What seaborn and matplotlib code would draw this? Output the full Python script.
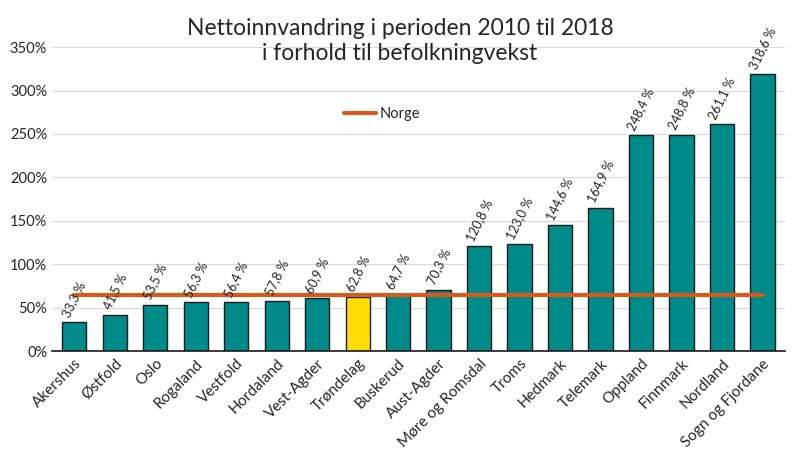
import numpy as np
import pandas as pd
import matplotlib
matplotlib.use("Agg")
import matplotlib.pyplot as plt
import seaborn as sns
from matplotlib.ticker import FuncFormatter

fylker = ['Akershus', 'Østfold', 'Oslo', 'Rogaland', 'Vestfold', 'Hordaland',
          'Vest-Agder', 'Trøndelag', 'Buskerud', 'Aust-Agder', 'Møre og Romsdal',
          'Troms', 'Hedmark', 'Telemark', 'Oppland', 'Finnmark', 'Nordland',
          'Sogn og Fjordane']
andel = [33.3, 41.5, 53.5, 56.3, 56.4, 57.8, 60.9, 62.8, 64.7, 70.3, 120.8,
         123.0, 144.6, 164.9, 248.4, 248.8, 261.1, 318.6]
norge = 65.0
uthevet = 'Trøndelag'

sns.set_theme(style="white")
plt.rcParams['font.family'] = ['Lato', 'DejaVu Sans']

df = pd.DataFrame({'Fylke': fylker, 'Andel': andel})
farger = ['#FFDD00' if f == uthevet else '#008B8B' for f in fylker]

fig = plt.figure(figsize=(8, 4.53), dpi=100)
ax = fig.add_axes([0.065, 0.225, 0.916, 0.671])

sns.barplot(data=df, x='Fylke', y='Andel', hue='Fylke', palette=farger,
            legend=False, ax=ax, width=0.6, edgecolor='#1a1a1a', linewidth=1.0,
            saturation=1, zorder=2)

x = np.arange(len(fylker))
ax.plot(x, [norge] * len(fylker), color='#D65A1A', linewidth=3, label='Norge', zorder=3)

for i, v in enumerate(andel):
    ax.text(i, v + 4, f"{v:.1f} %".replace('.', ','), rotation=64,
            ha='center', va='bottom', fontsize=9, color='#222222')

ax.set_ylim(0, 350)
ax.set_yticks(np.arange(0, 351, 50))
ax.yaxis.set_major_formatter(FuncFormatter(lambda v, p: f"{int(v)}%"))
ax.yaxis.grid(True, color='#d9d9d9', linewidth=0.8, zorder=0)
ax.set_axisbelow(True)
ax.set_xlim(-0.55, len(fylker) - 0.45)
ax.set_xlabel('')
ax.set_ylabel('')
ax.set_xticks(x)
ax.set_xticklabels(fylker, rotation=45, ha='right', rotation_mode='anchor', fontsize=11)
ax.tick_params(axis='y', labelsize=10.5, length=0)
ax.tick_params(axis='x', length=0, pad=4)
for s in ['top', 'right', 'left']:
    ax.spines[s].set_visible(False)
ax.spines['bottom'].set_color('#1a1a1a')
ax.spines['bottom'].set_linewidth(1.2)

ax.legend(loc='center left', bbox_to_anchor=(0.38, 0.78), frameon=False,
          fontsize=10.5, handlelength=2.2, handletextpad=0.3)

fig.text(0.5, 0.91, 'Nettoinnvandring i perioden 2010 til 2018\ni forhold til befolkningvekst',
         ha='center', va='center', fontsize=16.5, linespacing=1.25)

plt.savefig('out.png', dpi=100)
